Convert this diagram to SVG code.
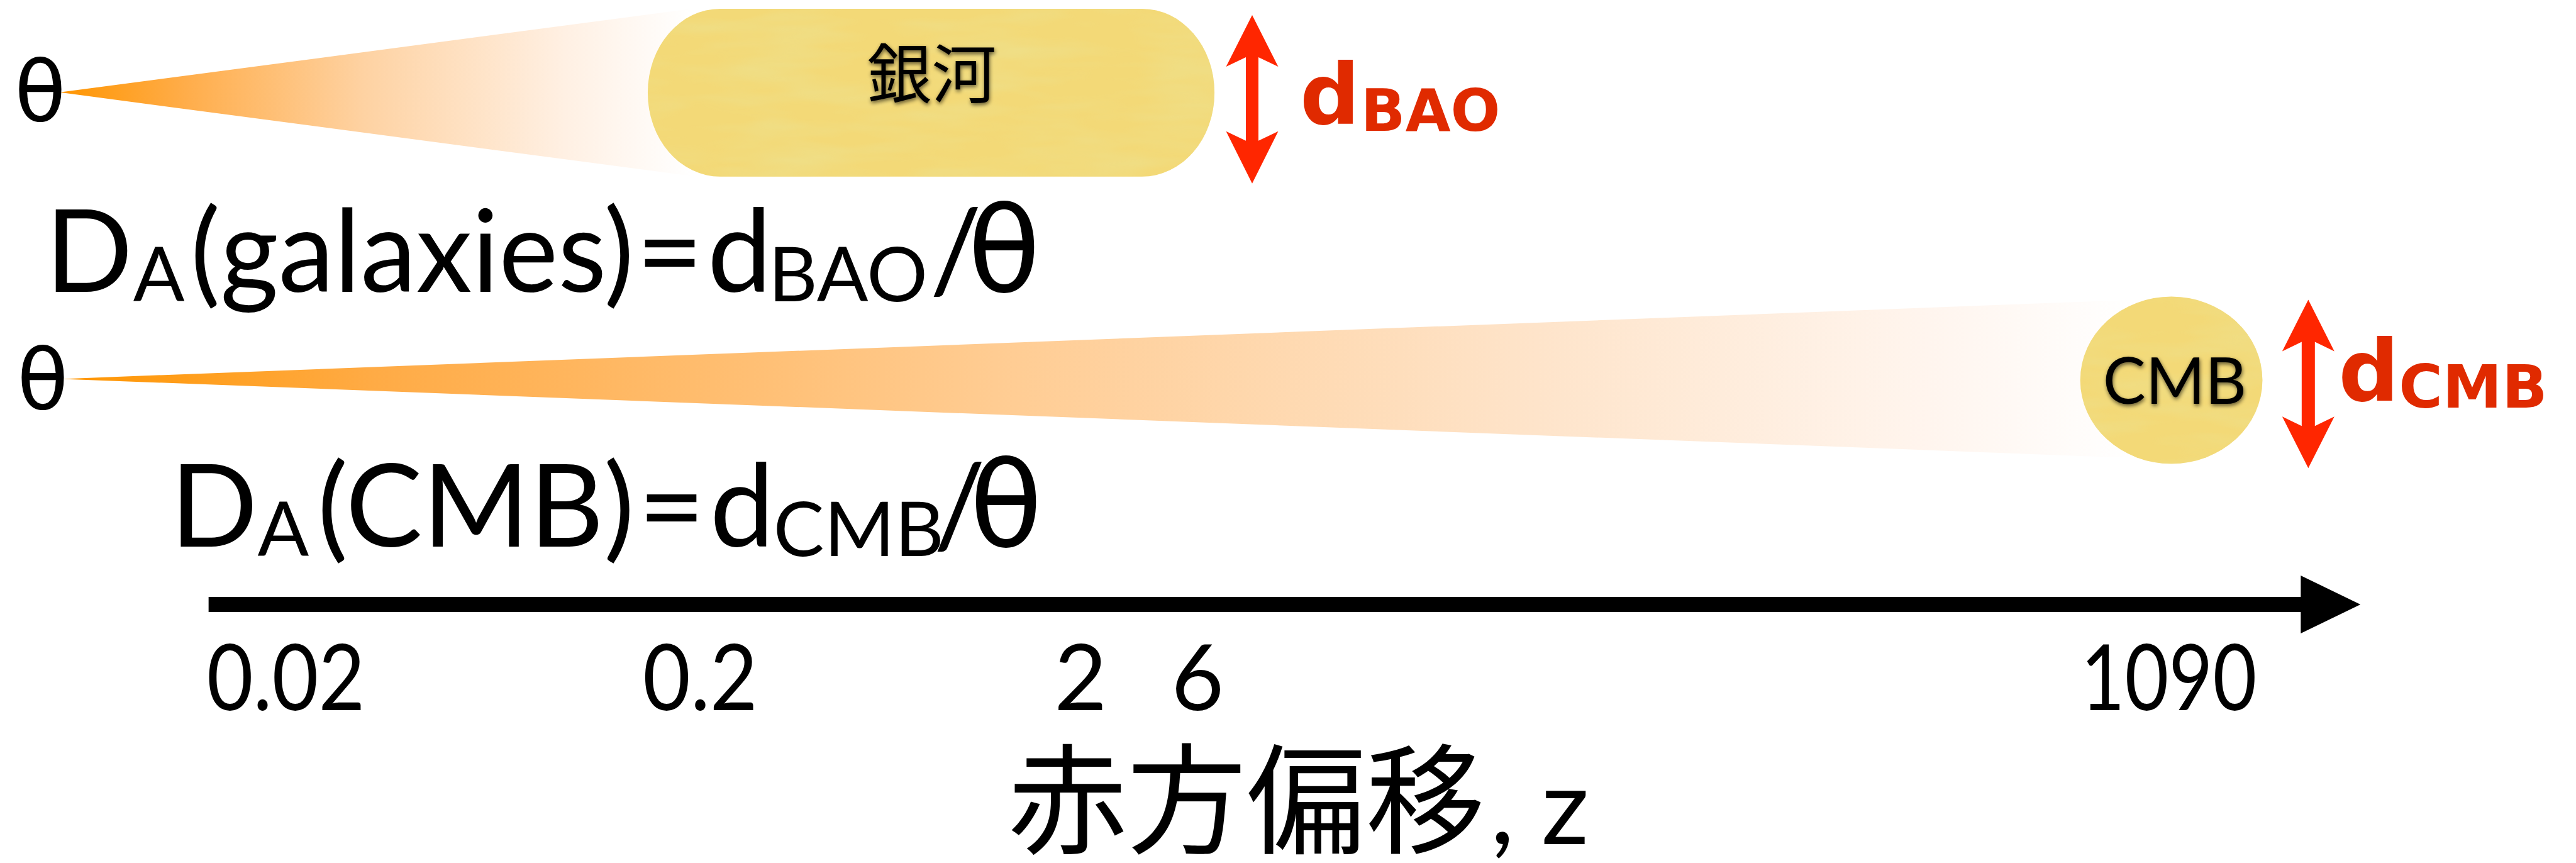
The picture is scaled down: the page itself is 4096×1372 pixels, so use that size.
<svg xmlns="http://www.w3.org/2000/svg" width="4096" height="1372" viewBox="0 0 4096 1372">
<style>
.lat{font-family:Lato,"Open Sans","DejaVu Sans",sans-serif;fill:#000}
.th{font-family:"DejaVu Sans",sans-serif;fill:#000}
.cjk{font-family:"Noto Sans CJK JP","Noto Sans CJK SC",sans-serif;fill:#000}
.red{font-family:"DejaVu Sans",sans-serif;font-weight:bold;fill:#e02a00}
.yel{fill:#f3d977}
.dim{fill:#ff2600}
</style>
<defs>
<linearGradient id="g1" gradientUnits="userSpaceOnUse" x1="95" y1="0" x2="1100" y2="0">
<stop offset="0" stop-color="#ff9500"/><stop offset="0.2" stop-color="#ffad4a"/><stop offset="0.48" stop-color="#fed2a2"/><stop offset="0.8" stop-color="#fff0e3"/><stop offset="1" stop-color="#ffffff"/>
</linearGradient>
<linearGradient id="g2" gradientUnits="userSpaceOnUse" x1="98" y1="0" x2="3400" y2="0">
<stop offset="0" stop-color="#ff9500"/><stop offset="0.15" stop-color="#ffab45"/><stop offset="0.45" stop-color="#ffcc92"/><stop offset="0.7" stop-color="#fee3c8"/><stop offset="0.9" stop-color="#fff5ee"/><stop offset="1" stop-color="#ffffff"/>
</linearGradient>
<filter id="tex" x="0" y="0" width="1" height="1">
<feTurbulence type="fractalNoise" baseFrequency="0.006 0.03" numOctaves="3" seed="4"/>
<feColorMatrix values="0 0 0 0 0.86  0 0 0 0 0.74  0 0 0 0 0.25  0 0 0 1.6 -0.6"/>
<feComposite in2="SourceGraphic" operator="in"/>
</filter>
<filter id="sh" x="-10%" y="-10%" width="130%" height="130%">
<feGaussianBlur in="SourceAlpha" stdDeviation="3"/>
<feOffset dx="1" dy="3" result="b"/>
<feComponentTransfer><feFuncA type="linear" slope="0.6"/></feComponentTransfer>
<feMerge><feMergeNode/><feMergeNode in="SourceGraphic"/></feMerge>
</filter>
</defs>
<rect x="0" y="0" width="4096" height="1372" fill="#fff"/>
<g transform="scale(0.999)">
<g id="cone-galaxy"><path d="M95,147 L1100,14 L1100,280 Z" fill="url(#g1)"/></g>
<g id="cone-cmb"><path d="M98,603 L3400,477 L3400,729 Z" fill="url(#g2)"/></g>
<g id="node-galaxy">
<rect class="yel" x="1031" y="14" width="902" height="267" rx="115" ry="133"/>
<rect x="1031" y="14" width="902" height="267" rx="115" ry="133" fill="#f3d977" filter="url(#tex)"/>
<text class="cjk" x="1380" y="156" font-size="103" filter="url(#sh)">銀河</text>
</g>
<g id="node-cmb">
<ellipse class="yel" cx="3456" cy="605" rx="145" ry="133"/>
<ellipse cx="3456" cy="605" rx="145" ry="133" fill="#f3d977" filter="url(#tex)"/>
<text class="lat" x="3347" y="643" font-size="102" filter="url(#sh)">CMB</text>
</g>
<g id="connectors">
<path class="dim" d="M1993,24 L2034.5,106 L2003,91 L2003,224 L2034.5,209 L1993,292 L1951.5,209 L1983,224 L1983,91 L1951.5,106 Z"/>
<path class="dim" d="M3674,477 L3715.5,559 L3684.5,544 L3684.5,678 L3715.5,663 L3674,745 L3632.5,663 L3663.5,678 L3663.5,544 L3632.5,559 Z"/>
<path d="M332,950 L3662,950 L3662,916 L3757,962 L3662,1008 L3662,974 L332,974 Z" fill="#000"/>
</g>
<g id="theta-labels">
<text class="th" x="23" y="192" font-size="134">θ</text>
<text class="th" x="27" y="651" font-size="134">θ</text>
</g>
<g id="dBAO">
<text class="red" x="2069" y="197" font-size="133">d<tspan x="2166" y="208" font-size="93">BAO</tspan></text>
</g>
<g id="dCMB">
<text class="red" x="3722" y="638" font-size="135">d<tspan x="3818" y="649" font-size="95">CMB</tspan></text>
</g>
<g id="formula-galaxies">
<text class="lat" y="464" font-size="183"><tspan x="72">D</tspan><tspan x="212" y="479" font-size="121">A</tspan><tspan x="303" y="464" textLength="706" lengthAdjust="spacingAndGlyphs">(galaxies)</tspan><tspan x="1013">=</tspan><tspan x="1126">d</tspan><tspan x="1223" y="479" font-size="121">BAO</tspan><tspan x="1480" y="464">/</tspan><tspan class="th" x="1540" font-size="190">θ</tspan></text>
</g>
<g id="formula-cmb">
<text class="lat" y="870" font-size="183"><tspan x="271">D</tspan><tspan x="410" y="885" font-size="121">A</tspan><tspan x="505" y="870" textLength="505" lengthAdjust="spacingAndGlyphs">(CMB)</tspan><tspan x="1016">=</tspan><tspan x="1130">d</tspan><tspan x="1231" y="885" font-size="121">CMB</tspan><tspan x="1486" y="870">/</tspan><tspan class="th" x="1543" font-size="190">θ</tspan></text>
</g>
<g id="axis-labels">
<text class="lat" x="329" y="1130" font-size="145" textLength="252" lengthAdjust="spacingAndGlyphs">0.02</text>
<text class="lat" x="1023" y="1130" font-size="145" textLength="183" lengthAdjust="spacingAndGlyphs">0.2</text>
<text class="lat" x="1678" y="1130" font-size="145">2</text>
<text class="lat" x="1864" y="1130" font-size="145">6</text>
<text class="lat" x="3312" y="1130" font-size="145" textLength="280" lengthAdjust="spacingAndGlyphs">1090</text>
<text class="cjk" x="1604" y="1343" font-size="190">赤方偏移<tspan class="lat" x="2372" font-size="168">, z</tspan></text>
</g>
</g>
</svg>
